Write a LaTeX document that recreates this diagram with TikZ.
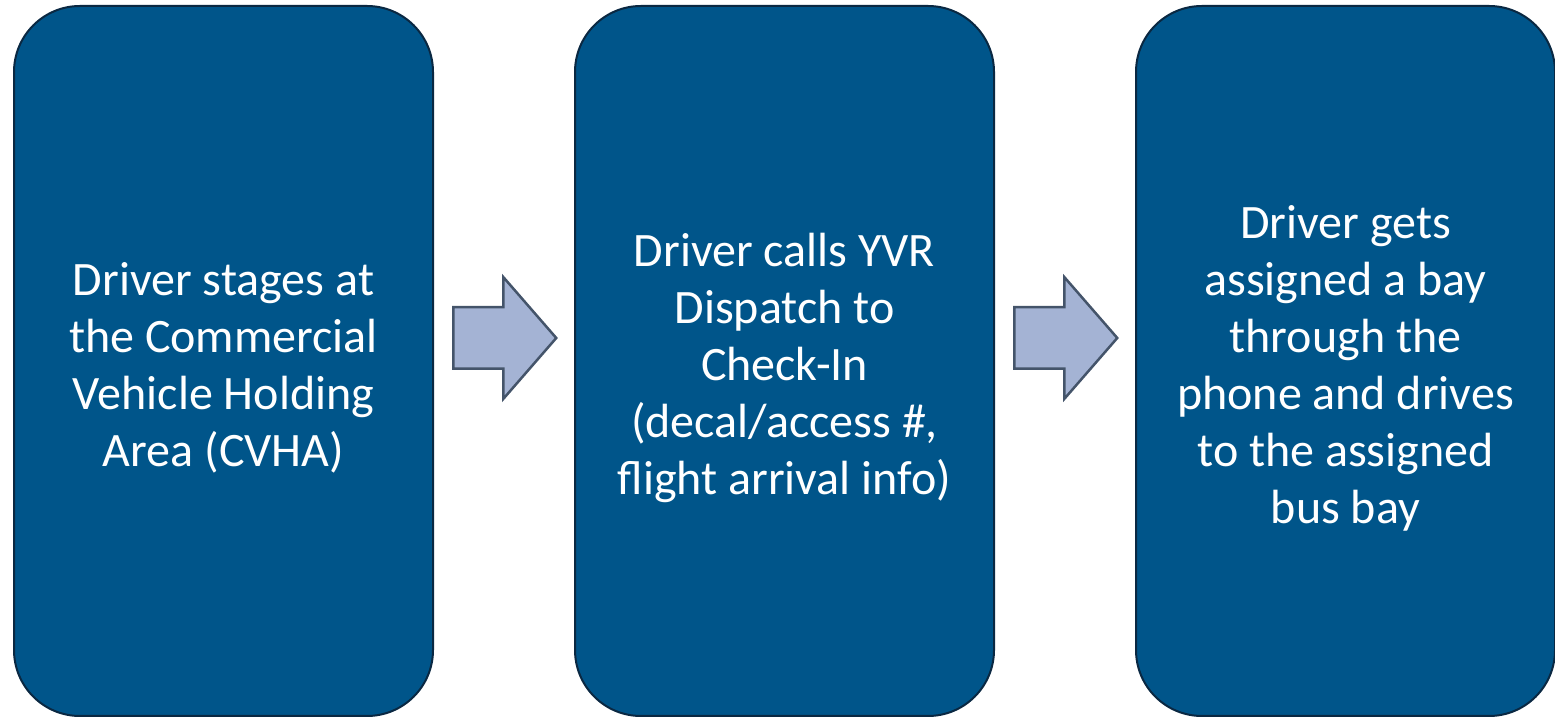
\documentclass[tikz,border=0pt]{standalone}
\usepackage{fontspec}
\setmainfont{Carlito}
\usetikzlibrary{positioning,shapes.arrows}

\definecolor{stepblue}{RGB}{0,85,138}
\definecolor{stepedge}{RGB}{10,40,66}
\definecolor{arrfill}{RGB}{164,179,212}
\definecolor{arredge}{RGB}{68,84,106}

\begin{document}
\begin{tikzpicture}[x=1pt,y=1pt,
    stepbox/.style={draw=stepedge, line width=2pt, fill=stepblue,
        rounded corners=66pt, minimum width=419pt, minimum height=710pt},
    steptext/.style={text=white, align=center, inner sep=0pt,
        font=\fontsize{48}{57}\selectfont},
    flowarrow/.style={single arrow, draw=arredge, line width=2.5pt,
        fill=arrfill, minimum height=103pt, minimum width=119pt,
        inner xsep=0pt, inner ysep=29.5pt,
        single arrow head extend=30pt, single arrow tip angle=98,
        anchor=west, yshift=23pt}]
\useasboundingbox (0,0) rectangle (1555,717);
%Nodes
\node[stepbox]  (S1)    at (223.5,356)      {};
\node[stepbox]  (S2)    [right=140pt of S1] {};
\node[stepbox]  (S3)    [right=140pt of S2] {};

\node[steptext] (T1)    at ([yshift=-7pt]S1.center) {Driver stages at\\the Commercial\\Vehicle Holding\\Area (CVHA)};
\node[steptext] (T2)    at ([yshift=-7pt]S2.center) {Driver calls YVR\\Dispatch to\\Check-In\\(decal/access \#,\\flight arrival info)};
\node[steptext] (T3)    at ([yshift=-7pt]S3.center) {Driver gets\\assigned a bay\\through the\\phone and drives\\to the assigned\\bus bay};

%Arrows
\node[flowarrow] (A1) [right=18pt of S1] {};
\node[flowarrow] (A2) [right=18pt of S2] {};
\end{tikzpicture}
\end{document}
